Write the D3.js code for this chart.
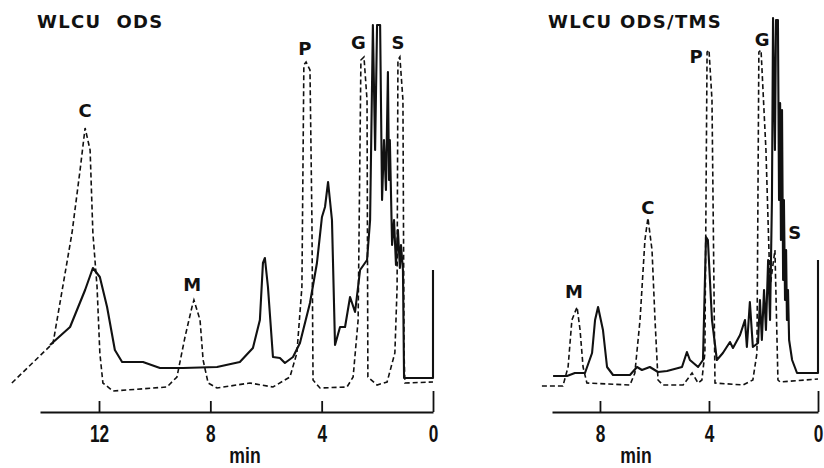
<!DOCTYPE html>
<html>
<head>
<meta charset="utf-8">
<script src="https://cdn.jsdelivr.net/npm/d3@7/dist/d3.min.js"></script>
<style>
  html, body { margin: 0; padding: 0; background: #fff; }
  svg { display: block; }
  text { fill: #111; }
</style>
</head>
<body>
<svg id="chart" width="824" height="468"></svg>
<script>
// Traces: [retention time (min), detector response (arb. units)]
const leftDashed = [
  [15.13, 29], [13.65, 69], [12.97, 179], [12.68, 242], [12.50, 284], [12.32, 262],
  [12.22, 179], [12.07, 125], [11.97, 59], [11.86, 29], [11.50, 21], [9.56, 25],
  [9.20, 35], [8.91, 75], [8.66, 105], [8.59, 112], [8.37, 92], [8.26, 52],
  [8.08, 29], [7.76, 24], [6.58, 29], [5.75, 25], [5.14, 35], [4.89, 59],
  [4.71, 125], [4.64, 347], [4.56, 350], [4.42, 342], [4.35, 192], [4.31, 32],
  [4.06, 24], [3.09, 25], [2.87, 35], [2.69, 92], [2.59, 352], [2.48, 355],
  [2.37, 312], [2.34, 35], [2.01, 27], [1.65, 30], [1.37, 59], [1.29, 125],
  [1.26, 352], [1.19, 355], [1.08, 312], [1.04, 59], [1.01, 29], [0, 30]
];

const leftSolid = [
  [13.76, 67], [13.04, 85], [12.50, 122], [12.22, 144], [11.97, 135], [11.71, 105],
  [11.43, 62], [11.17, 50], [10.42, 50], [9.81, 44], [8.98, 44], [7.76, 45],
  [6.94, 50], [6.47, 64], [6.22, 92], [6.11, 149], [6.04, 154], [5.93, 125],
  [5.75, 55], [5.50, 54], [5.32, 49], [5.03, 55], [4.78, 69], [4.42, 109],
  [4.17, 149], [3.99, 195], [3.88, 205], [3.77, 230], [3.63, 192], [3.52, 67],
  [3.34, 85], [3.16, 85], [2.98, 115], [2.80, 100], [2.62, 142], [2.37, 152],
  [2.26, 192], [2.16, 387], [2.08, 262], [2.01, 387], [1.90, 387], [1.83, 212],
  [1.76, 272], [1.69, 222], [1.62, 340], [1.58, 232], [1.55, 272], [1.47, 167],
  [1.40, 192], [1.33, 147], [1.26, 182], [1.19, 144], [1.15, 167], [1.08, 142],
  [1.04, 34], [0, 34], [0, 142]
];

const rightDashed = [
  [10.13, 26], [9.36, 26], [9.17, 45], [9.03, 92], [8.84, 105], [8.73, 82],
  [8.62, 45], [8.48, 29], [6.90, 27], [6.72, 39], [6.53, 92], [6.35, 172],
  [6.24, 194], [6.09, 162], [5.98, 92], [5.87, 32], [5.69, 27], [4.95, 27],
  [4.62, 39], [4.40, 29], [4.26, 32], [4.15, 59], [4.07, 360], [4.00, 362],
  [3.89, 312], [3.78, 29], [2.75, 27], [2.39, 32], [2.24, 59], [2.17, 360],
  [2.09, 362], [1.91, 262], [1.76, 125], [1.58, 162], [1.47, 32], [1.39, 30],
  [0, 33]
];

const rightSolid = [
  [9.72, 36], [9.21, 36], [8.92, 39], [8.55, 39], [8.29, 59], [8.18, 92],
  [8.07, 105], [7.89, 82], [7.74, 45], [7.52, 37], [6.90, 37], [6.64, 45],
  [6.46, 42], [6.17, 45], [5.87, 40], [5.54, 41], [4.99, 45], [4.81, 60],
  [4.70, 52], [4.40, 45], [4.22, 52], [4.11, 175], [4.04, 172], [3.89, 92],
  [3.71, 52], [3.49, 59], [3.23, 70], [3.12, 64], [2.86, 77], [2.68, 92],
  [2.61, 65], [2.50, 110], [2.39, 65], [2.20, 69], [2.13, 112], [2.06, 72],
  [1.98, 122], [1.91, 82], [1.83, 152], [1.76, 92], [1.69, 212], [1.65, 394],
  [1.58, 262], [1.54, 392], [1.47, 392], [1.43, 212], [1.39, 309], [1.36, 172],
  [1.32, 302], [1.28, 132], [1.25, 212], [1.21, 112], [1.17, 162], [1.14, 92],
  [1.10, 122], [1.06, 72], [0.95, 52], [0.77, 39], [0, 39], [0, 152]
];

// Peak labels: [name, time, response]
const leftPeakLabels = [['C', 12.5, 301], ['M', 8.65, 127], ['P', 4.6, 363], ['G', 2.68, 369], ['S', 1.26, 369]];
const rightPeakLabels = [['M', 8.95, 120], ['C', 6.24, 204], ['P', 4.47, 355], ['G', 2.05, 372], ['S', 0.85, 179]];

const leftTicks = [12, 8, 4, 0];
const rightTicks = [8, 4, 0];

const svg = d3.select('#chart');
const y = d3.scaleLinear().domain([0, 400]).range([412, 12]);
const sans = '"Liberation Sans", Arial, sans-serif';
const bold = '"DejaVu Sans", sans-serif';

const panels = [
  { title: 'WLCU\u00a0\u00a0ODS', titleX: 37, domain: [14.12, 0], range: [40, 433],
    solid: leftSolid, dashed: leftDashed, labels: leftPeakLabels, ticks: leftTicks, minX: 245 },
  { title: 'WLCU ODS/TMS', titleX: 548, domain: [9.76, 0], range: [552, 818],
    solid: rightSolid, dashed: rightDashed, labels: rightPeakLabels, ticks: rightTicks, minX: 636 }
];

panels.forEach((p) => {
  const x = d3.scaleLinear().domain(p.domain).range(p.range);
  const g = svg.append('g');
  const line = d3.line().x((d) => x(d[0])).y((d) => y(d[1]));

  g.append('path')
    .datum(p.dashed)
    .attr('d', line)
    .attr('fill', 'none')
    .attr('stroke', '#111')
    .attr('stroke-width', 1.6)
    .attr('stroke-dasharray', '5,3');

  g.append('path')
    .datum(p.solid)
    .attr('d', line)
    .attr('fill', 'none')
    .attr('stroke', '#111')
    .attr('stroke-width', 2.1)
    .attr('stroke-linejoin', 'round');

  // Axis: ticks point up from the base line, labels below.
  const axis = g.append('g')
    .attr('transform', `translate(0,${y(0)})`)
    .call(d3.axisBottom(x).tickValues(p.ticks).tickSizeInner(-11).tickSizeOuter(0).tickPadding(14));
  axis.select('.domain').attr('stroke', '#111').attr('stroke-width', 2);
  axis.selectAll('.tick line').attr('stroke', '#111').attr('stroke-width', 1.8)
    .attr('y2', (d) => d === 0 ? -21 : -11);
  // Narrow, tall digits as in the original print.
  axis.selectAll('.tick text')
    .attr('fill', '#111')
    .attr('transform', 'scale(0.75,1)')
    .style('font-family', sans)
    .style('font-size', '23px')
    .style('font-weight', 'bold');

  g.append('text')
    .attr('transform', `translate(${p.minX},463) scale(0.8,1)`)
    .attr('text-anchor', 'middle')
    .style('font-family', sans)
    .style('font-size', '22px')
    .style('font-weight', 'bold')
    .text('min');

  g.append('text')
    .attr('x', p.titleX).attr('y', 28)
    .style('font-family', bold)
    .style('font-size', '18px')
    .style('font-weight', 'bold')
    .style('letter-spacing', '1.3px')
    .text(p.title);

  g.selectAll('text.peak')
    .data(p.labels)
    .join('text')
    .attr('class', 'peak')
    .attr('x', (d) => x(d[1]))
    .attr('y', (d) => y(d[2]))
    .attr('text-anchor', 'middle')
    .attr('dy', '0.36em')
    .style('font-family', bold)
    .style('font-size', '18px')
    .style('font-weight', 'bold')
    .text((d) => d[0]);
});
</script>
</body>
</html>
